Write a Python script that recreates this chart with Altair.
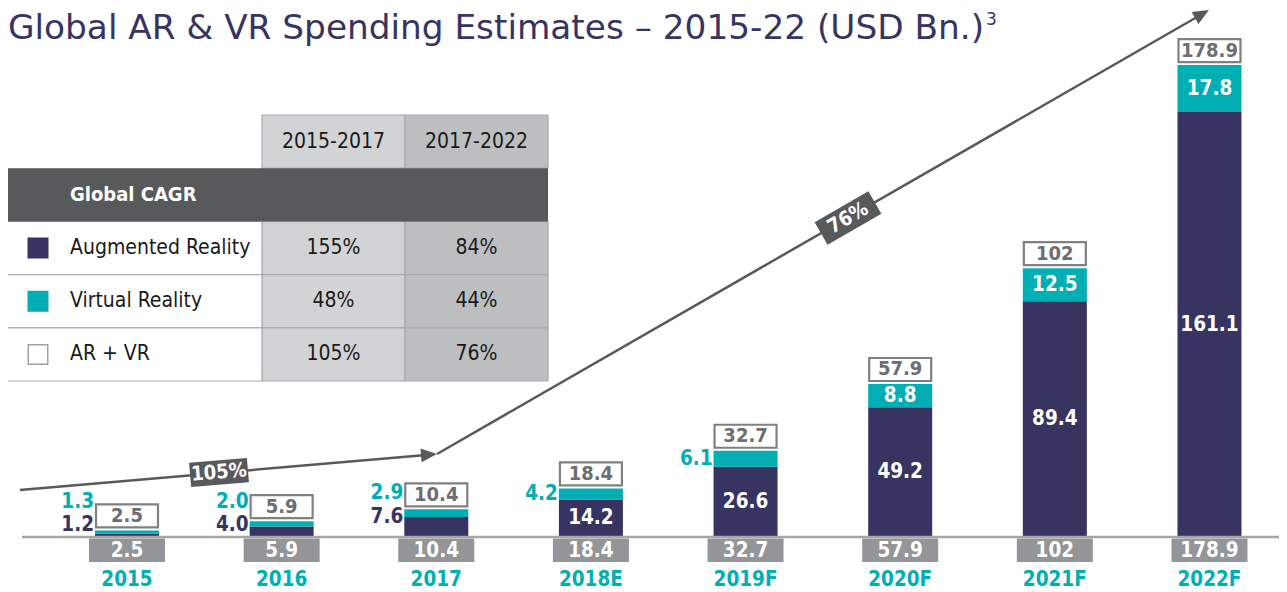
import altair as alt
import pandas as pd

# ---------------- data ----------------
years = ["2015", "2016", "2017", "2018E", "2019F", "2020F", "2021F", "2022F"]
ar_values = [1.2, 4.0, 7.6, 14.2, 26.6, 49.2, 89.4, 161.1]
vr_values = [1.3, 2.0, 2.9, 4.2, 6.1, 8.8, 12.5, 17.8]
totals = [2.5, 5.9, 10.4, 18.4, 32.7, 57.9, 102, 178.9]

cagr_periods = ["2015-2017", "2017-2022"]
cagr_series = ["Augmented Reality", "Virtual Reality", "AR + VR"]
cagr_2015_2017 = ["155%", "48%", "105%"]
cagr_2017_2022 = ["84%", "44%", "76%"]
cagr_header = "Global CAGR"
arrow_labels = ["105%", "76%"]

title_text = "Global AR & VR Spending Estimates \u2013 2015-22 (USD Bn.)"
title_sup = "3"

# ---------------- styling ----------------
NAVY = "#373462"
TEAL = "#00AEB3"
GRAYBOX = "#939598"
BOXSTROKE = "#808080"
BOXTEXT = "#6d6e71"
BASEGRAY = "#a6a6a6"
ARROW = "#595959"
HEAD = "#58595b"
LIGHT = "#d1d3d4"
DARK = "#bcbec0"
FONT = "DejaVu Sans Condensed, DejaVu Sans, sans-serif"

W, H = 1271, 584
BASE = 529.0           # baseline (plot px)
PXU = 2.638            # px per billion
YMAX = 200.0


def units(px_from_base):
    return px_from_base / PXU


step = 154.64
bw = 64.0
pin = 1 - bw / step
pout = pin / 2
c0 = 119.0
r0 = c0 - step / 2
xs = alt.Scale(domain=years, range=[r0, r0 + 8 * step], paddingInner=pin, paddingOuter=pout)
ys = alt.Scale(domain=[0, YMAX], range=[BASE, BASE - YMAX * PXU], nice=False, zero=True)

recs = []
for yr, a, v, t in zip(years, ar_values, vr_values, totals):
    top = a + v
    ar_left_y = max(a, units(11.6))
    rec = dict(
        year=yr, ar=a, top=top,
        box_lo=top + units(3), box_hi=top + units(26), box_mid=top + units(14.5),
        total_lbl=f"{t:g}", ar_lbl=f"{a:.1f}", vr_lbl=f"{v:.1f}",
        ar_in=a >= 10, vr_in=v >= 8,
        ar_in_y=a / 2, vr_in_y=a + v / 2,
        ar_left_y=ar_left_y,
        vr_left_y=max(a + v / 2, (ar_left_y + units(23.5)) if a < 10 else 0),
    )
    recs.append(rec)
df = pd.DataFrame(recs)

X = alt.X("year:N", scale=xs, axis=None)

ar_bar = alt.Chart(df).mark_bar(color=NAVY, size=bw).encode(
    x=X, y=alt.Y("ar:Q", scale=ys, axis=None, stack=None))
vr_bar = alt.Chart(df).mark_bar(color=TEAL, size=bw).encode(
    x=X, y=alt.Y("ar:Q", scale=ys, axis=None, stack=None), y2="top:Q")
tot_box = alt.Chart(df).mark_bar(fill="white", stroke=BOXSTROKE, strokeWidth=2.2, size=bw - 2).encode(
    x=X, y=alt.Y("box_lo:Q", scale=ys, axis=None, stack=None), y2="box_hi:Q")
tot_txt = alt.Chart(df).mark_text(font=FONT, fontWeight="bold", fontSize=20, color=BOXTEXT,
                                  baseline="middle").encode(
    x=X, y=alt.Y("box_mid:Q", scale=ys, axis=None), text="total_lbl:N")

ar_in = alt.Chart(df).transform_filter("datum.ar_in").mark_text(
    font=FONT, fontWeight="bold", fontSize=20.5, color="white", baseline="middle").encode(
    x=X, y=alt.Y("ar_in_y:Q", scale=ys, axis=None), text="ar_lbl:N")
vr_in = alt.Chart(df).transform_filter("datum.vr_in").mark_text(
    font=FONT, fontWeight="bold", fontSize=20.5, color="white", baseline="middle").encode(
    x=X, y=alt.Y("vr_in_y:Q", scale=ys, axis=None), text="vr_lbl:N")
ar_left = alt.Chart(df).transform_filter("!datum.ar_in").mark_text(
    font=FONT, fontWeight="bold", fontSize=20.5, color=NAVY, baseline="middle", align="right",
    dx=-bw / 2 - 1).encode(
    x=X, y=alt.Y("ar_left_y:Q", scale=ys, axis=None), text="ar_lbl:N")
vr_left = alt.Chart(df).transform_filter("!datum.vr_in").mark_text(
    font=FONT, fontWeight="bold", fontSize=20.5, color=TEAL, baseline="middle", align="right",
    dx=-bw / 2 - 1).encode(
    x=X, y=alt.Y("vr_left_y:Q", scale=ys, axis=None), text="vr_lbl:N")

base_rule = alt.Chart(pd.DataFrame({"a": [0]})).mark_rule(color=BASEGRAY, strokeWidth=2.5).encode(
    x=alt.value(14), x2=alt.value(W), y=alt.value(BASE))

bot_box = alt.Chart(df).mark_bar(color=GRAYBOX, size=76).encode(
    x=X, y=alt.Y("lo:Q", scale=ys, axis=None, stack=None), y2="hi:Q").transform_calculate(
    lo=str(-units(1.5)), hi=str(-units(25)))
bot_txt = alt.Chart(df).mark_text(font=FONT, fontWeight="bold", fontSize=20.5, color="white",
                                  baseline="middle").encode(
    x=X, y=alt.value(BASE + 13.5), text="total_lbl:N")
year_txt = alt.Chart(df).mark_text(font=FONT, fontWeight="bold", fontSize=20.5, color=TEAL,
                                   baseline="middle").encode(
    x=X, y=alt.value(BASE + 43), text="year:N")

# ---------------- table ----------------
trows = ["head", cagr_header] + cagr_series
tys = alt.Scale(domain=trows, range=[107, 373], paddingInner=0, paddingOuter=0)
txs = alt.Scale(domain=cagr_periods, range=[254, 540], paddingInner=0, paddingOuter=0)
TY = alt.Y("row:N", scale=tys, axis=None)
TX = alt.X("period:N", scale=txs, axis=None)

cells = pd.DataFrame(
    [dict(period=p, row=r) for p in cagr_periods for r in ["head"] + cagr_series])
vals = pd.DataFrame(
    [dict(period=cagr_periods[0], row=s, v=a) for s, a in zip(cagr_series, cagr_2015_2017)]
    + [dict(period=cagr_periods[1], row=s, v=b) for s, b in zip(cagr_series, cagr_2017_2022)])
series_df = pd.DataFrame({"row": cagr_series})
head_df = pd.DataFrame({"row": [cagr_header]})
per_df = pd.DataFrame({"period": cagr_periods, "row": ["head", "head"]})

TFS = 21
cell_rect = alt.Chart(cells).mark_rect(stroke="#a9abae", strokeWidth=1.2).encode(
    x=TX, y=TY,
    fill=alt.Fill("period:N", scale=alt.Scale(domain=cagr_periods, range=[LIGHT, DARK]), legend=None))
label_rect = alt.Chart(series_df).mark_rect(fill="white", stroke="#a9abae", strokeWidth=1.2).encode(
    x=alt.value(-1), x2=alt.value(254), y=TY)
head_rect = alt.Chart(head_df).mark_rect(fill=HEAD).encode(
    x=alt.value(-1), x2=alt.value(540), y=TY)
head_txt = alt.Chart(head_df).mark_text(font=FONT, fontWeight="bold", fontSize=20, color="white",
                                        align="left", baseline="middle").encode(
    x=alt.value(62), y=TY, text="row:N")
per_txt = alt.Chart(per_df).mark_text(font=FONT, fontSize=TFS, color="#1a1a1a",
                                      baseline="middle").encode(x=TX, y=TY, text="period:N")
val_txt = alt.Chart(vals).mark_text(font=FONT, fontSize=TFS, color="#1a1a1a",
                                    baseline="middle").encode(x=TX, y=TY, text="v:N")
ser_txt = alt.Chart(series_df).mark_text(font=FONT, fontSize=TFS, color="#1a1a1a", align="left",
                                         baseline="middle").encode(
    x=alt.value(62), y=TY, text="row:N")
ser_sq = alt.Chart(series_df).mark_point(shape="square", size=380, filled=True, strokeWidth=1.5,
                                         opacity=1).encode(
    x=alt.value(30), y=TY,
    fill=alt.Fill("row:N", scale=alt.Scale(domain=cagr_series, range=[NAVY, TEAL, "white"]), legend=None),
    stroke=alt.Stroke("row:N", scale=alt.Scale(domain=cagr_series, range=[NAVY, TEAL, "#a0a0a0"]), legend=None))

# ---------------- arrows ----------------
one = pd.DataFrame({"a": [0]})
seg1 = alt.Chart(one).mark_rule(color=ARROW, strokeWidth=2.5).encode(
    x=alt.value(12), y=alt.value(482), x2=alt.value(424), y2=alt.value(446.5))
seg2 = alt.Chart(one).mark_rule(color=ARROW, strokeWidth=2.5).encode(
    x=alt.value(429), y=alt.value(446), x2=alt.value(1196), y2=alt.value(5))
HEADPATH = "M1,0L-1,-0.85L-1,0.85Z"
head1 = alt.Chart(one).mark_point(shape=HEADPATH, size=256, filled=True, color=ARROW, opacity=1,
                                  angle=355.1).encode(x=alt.value(421), y=alt.value(446.7))
head2 = alt.Chart(one).mark_point(shape=HEADPATH, size=256, filled=True, color=ARROW, opacity=1,
                                  angle=330.1).encode(x=alt.value(1194), y=alt.value(6))
BOXPATH = "M-1,-0.42L1,-0.42L1,0.42L-1,0.42Z"
lab1_box = alt.Chart(one).mark_point(shape=BOXPATH, size=58 * 58, filled=True, color=HEAD, opacity=1,
                                     angle=355.1).encode(x=alt.value(211), y=alt.value(464.5))
lab1_txt = alt.Chart(one).mark_text(font=FONT, fontWeight="bold", fontSize=20, color="white",
                                    baseline="middle", angle=355.1).encode(
    x=alt.value(211), y=alt.value(464.5), text=alt.value(arrow_labels[0]))
lab2_box = alt.Chart(one).mark_point(shape=BOXPATH, size=62 * 62, filled=True, color=HEAD, opacity=1,
                                     angle=330.1).encode(x=alt.value(840), y=alt.value(210))
lab2_txt = alt.Chart(one).mark_text(font=FONT, fontWeight="bold", fontSize=20, color="white",
                                    baseline="middle", angle=330.1).encode(
    x=alt.value(840), y=alt.value(210), text=alt.value(arrow_labels[1]))

title = alt.Chart(one).mark_text(font="DejaVu Sans, sans-serif", fontSize=34.3, color=NAVY,
                                 align="left", baseline="alphabetic").encode(
    x=alt.value(0), y=alt.value(31), text=alt.value(title_text))
title3 = alt.Chart(one).mark_text(font="DejaVu Sans, sans-serif", fontSize=17, color=NAVY,
                                  align="left", baseline="alphabetic").encode(
    x=alt.value(978), y=alt.value(17), text=alt.value(title_sup))

chart = alt.layer(
    cell_rect, label_rect, head_rect, head_txt, per_txt, val_txt, ser_txt, ser_sq,
    seg1, seg2, head1, head2, lab1_box, lab1_txt, lab2_box, lab2_txt,
    ar_bar, vr_bar, tot_box, tot_txt, ar_in, vr_in, ar_left, vr_left,
    base_rule, bot_box, bot_txt, year_txt, title, title3,
).resolve_scale(
    x="independent", y="independent", fill="independent", stroke="independent", color="independent"
).properties(
    width=W, height=H, padding=0, autosize=alt.AutoSizeParams(type="none")
).configure_view(stroke=None)

chart.save("out.html", embed_options={"renderer": "svg", "actions": False})
